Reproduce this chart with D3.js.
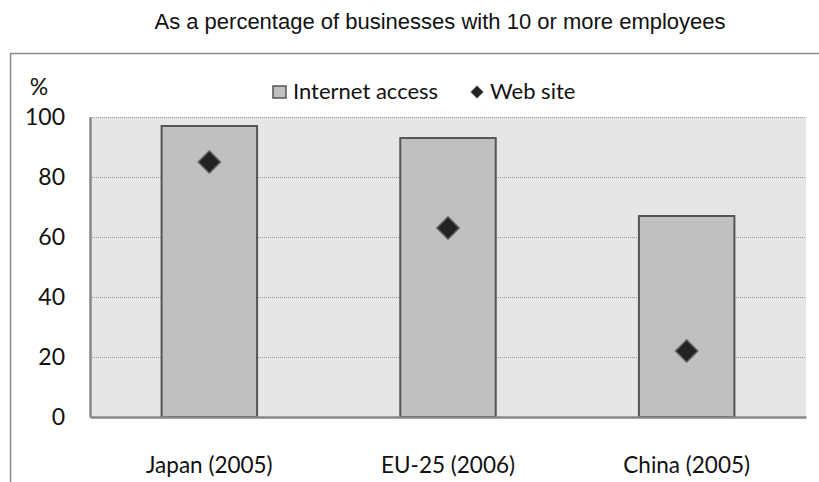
<!DOCTYPE html>
<html>
<head>
<meta charset="utf-8">
<script src="https://cdn.jsdelivr.net/npm/d3@7"></script>
<style>
html,body{margin:0;padding:0;background:#fff;}
svg{display:block;}
</style>
</head>
<body>
<svg id="chart" width="819" height="482"></svg>
<script>
const title = "As a percentage of businesses with 10 or more employees";
const categories = ["Japan (2005)", "EU-25 (2006)", "China (2005)"];
const internetAccess = [97, 93, 67];
const webSite = [85, 63, 22];
const yTicks = [0, 20, 40, 60, 80, 100];
const seriesNames = ["Internet access", "Web site"];

const svg = d3.select("#chart");
const plot = {left: 90, right: 806, top: 117, bottom: 417};

const x = d3.scaleBand().domain(categories).range([plot.left, plot.right]).paddingInner(0.6).paddingOuter(0.3);
const y = d3.scaleLinear().domain([0, 100]).range([plot.bottom, plot.top]);

// title
svg.append("text").attr("x", 440).attr("y", 29).attr("text-anchor", "middle")
  .attr("font-family", "Liberation Sans, Arial, sans-serif").attr("font-size", 22).attr("fill", "#111")
  .text(title);

// frame
svg.append("path").attr("d", "M10.5,482 L10.5,53.5 L819,53.5").attr("fill", "none").attr("stroke", "#8a8a8a").attr("stroke-width", 1.5);

// plot background
svg.append("rect").attr("x", plot.left).attr("y", plot.top).attr("width", plot.right - plot.left).attr("height", plot.bottom - plot.top).attr("fill", "#e6e6e6");

// gridlines
svg.append("g").selectAll("line").data(yTicks.filter(d => d > 0)).join("line")
  .attr("x1", plot.left).attr("x2", plot.right)
  .attr("y1", d => y(d) + 0.5).attr("y2", d => y(d) + 0.5)
  .attr("stroke", "#9a9a9a").attr("stroke-width", 1).attr("stroke-dasharray", "1,1");

// bars
svg.append("g").selectAll("rect").data(categories).join("rect")
  .attr("x", d => x(d)).attr("width", x.bandwidth())
  .attr("y", (d, i) => y(internetAccess[i])).attr("height", (d, i) => y(0) - y(internetAccess[i]))
  .attr("fill", "#c0c0c0").attr("stroke", "#555").attr("stroke-width", 2);

// axes
const yAxis = d3.axisLeft(y).tickValues(yTicks).tickSize(0).tickPadding(25);
const gy = svg.append("g").attr("transform", `translate(${plot.left},0)`).call(yAxis);
gy.select(".domain").attr("stroke", "#888").attr("stroke-width", 2.5);
gy.selectAll("text").attr("font-family", "Lato, Carlito, sans-serif").attr("font-size", 23).attr("fill", "#111");

const xAxis = d3.axisBottom(x).tickSize(0).tickPadding(40);
const gx = svg.append("g").attr("transform", `translate(0,${plot.bottom})`).call(xAxis);
gx.select(".domain").attr("stroke", "#888").attr("stroke-width", 2.5);
gx.selectAll("text").attr("font-family", "Lato, Carlito, sans-serif").attr("font-size", 22.5).attr("fill", "#111");

// diamonds
const diamond = d3.symbol().type(d3.symbolDiamond2).size(320);
svg.append("g").selectAll("path").data(categories).join("path")
  .attr("d", diamond)
  .attr("transform", (d, i) => `translate(${x(d) + x.bandwidth() / 2},${y(webSite[i])})`)
  .attr("fill", "#222").attr("stroke", "#666").attr("stroke-width", 1.5);

// % label
svg.append("text").attr("x", 39).attr("y", 95).attr("text-anchor", "middle")
  .attr("font-family", "Lato, Carlito, sans-serif").attr("font-size", 23).attr("fill", "#111").text("%");

// legend
const lg = svg.append("g").attr("font-family", "Lato, Carlito, sans-serif").attr("font-size", 22).attr("fill", "#111");
lg.append("rect").attr("x", 273).attr("y", 86).attr("width", 13).attr("height", 12).attr("fill", "#c0c0c0").attr("stroke", "#555").attr("stroke-width", 1.5);
lg.append("text").attr("x", 293).attr("y", 99).text(seriesNames[0]);
lg.append("path").attr("d", d3.symbol().type(d3.symbolDiamond2).size(100)).attr("transform", "translate(477,92)").attr("fill", "#222").attr("stroke", "#666").attr("stroke-width", 1);
lg.append("text").attr("x", 490).attr("y", 99).text(seriesNames[1]);
</script>
</body>
</html>
